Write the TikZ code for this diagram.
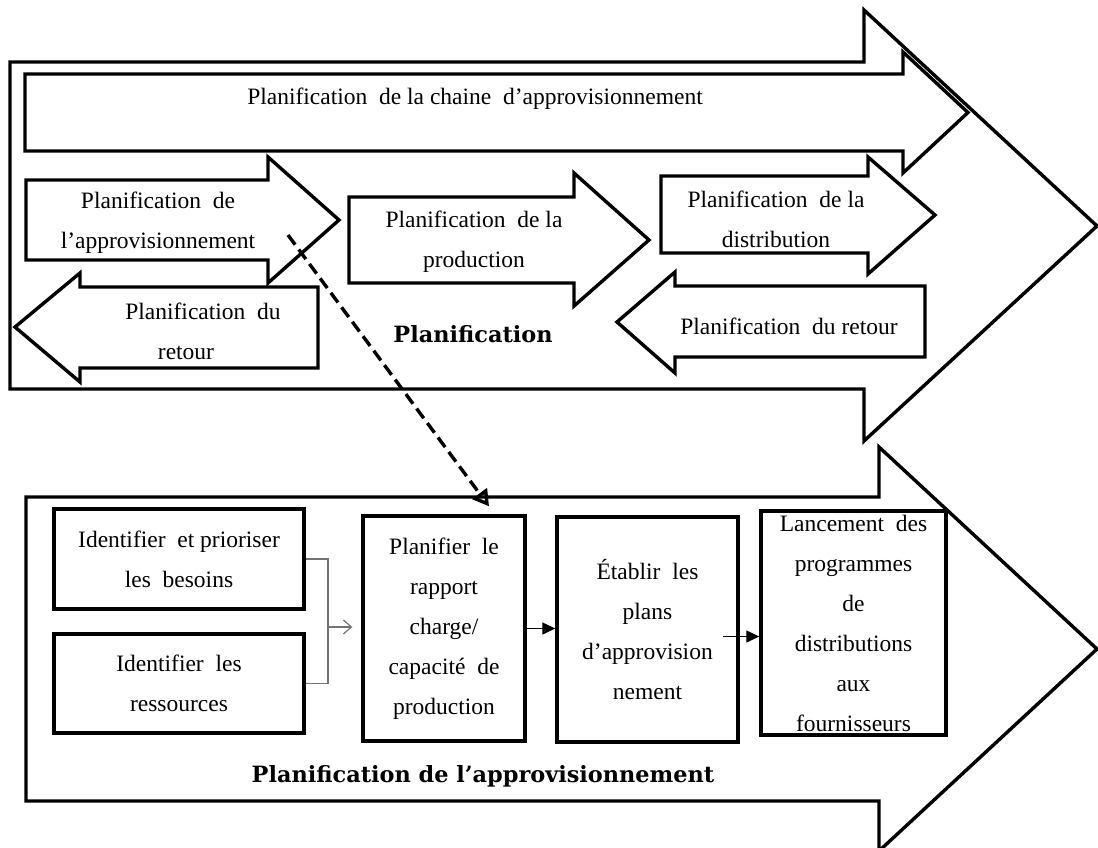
\documentclass[tikz,border=0pt]{standalone}
\usepackage{fontspec}
\setmainfont{Liberation Serif}
\newfontfamily\headfont{DejaVu Serif}
\usetikzlibrary{arrows.meta}

\tikzset{
  blockarrow/.style={draw=black, line width=3.4pt, line join=miter, fill=white},
  txt/.style={font=\fontsize{23.5}{40}\selectfont, align=center, inner sep=0pt},
  headlabel/.style={font=\headfont\bfseries\fontsize{22.4}{26}\selectfont, inner sep=0pt},
  stepbox/.style={draw=black, line width=3.4pt, inner sep=0pt, align=center,
    font=\fontsize{23.5}{40}\selectfont},
  mergeline/.style={draw=black!55, line width=1.2pt},
  mergearrow/.style={mergeline, shorten >=9pt, -{Straight Barb[length=8pt,width=14pt]}},
  flowarrow/.style={draw=black, line width=1.3pt, -{Triangle[length=13pt,width=12pt]}},
  linkarrow/.style={draw=black, line width=3.4pt, dash pattern=on 12pt off 6pt,
    -{Triangle[open, length=16pt, width=18pt]}}
}

\begin{document}
\begin{tikzpicture}[x=1pt,y=-1pt]
\useasboundingbox (0,0) rectangle (1098,847);

% ---- upper block: supply chain planning ----
\draw[blockarrow] (10,62) -- (864,62) -- (864,10) -- (1097,226) -- (864,441) -- (864,389) -- (10,389) -- cycle;
\draw[blockarrow] (25,74) -- (903,74) -- (903,52) -- (968,112.5) -- (903,173) -- (903,151) -- (25,151) -- cycle;
\draw[blockarrow] (26,180) -- (268,180) -- (268,157) -- (339,220) -- (268,283) -- (268,260) -- (26,260) -- cycle;
\draw[blockarrow] (349,197) -- (574,197) -- (574,173) -- (649,240) -- (574,306) -- (574,283) -- (349,283) -- cycle;
\draw[blockarrow] (661,176) -- (868,176) -- (868,157) -- (935,215) -- (868,274) -- (868,253) -- (661,253) -- cycle;
\draw[blockarrow] (318,287) -- (80,287) -- (80,273) -- (15,327) -- (80,382) -- (80,368) -- (318,368) -- cycle;
\draw[blockarrow] (925,286) -- (675,286) -- (675,272) -- (617,322) -- (675,373) -- (675,357) -- (925,357) -- cycle;

\node[txt] (chain) at (475,99) {Planification\ \ de la chaine\ \ d’approvisionnement};
\node[txt] (supply) at (158,223) {Planification\ \ de\\l’approvisionnement};
\node[txt] (prod) at (474,242) {Planification\ \ de la\\production};
\node[txt] (distr) at (776,219) {Planification\ \ de la\\distribution};
\node[txt] (retl) at (203,331) {Planification\ \ du\\\hspace*{-34pt}retour};
\node[txt] (retr) at (789,326) {Planification\ \ du retour};
\node[headlabel] (plabel) at (473,334) {Planification};

% ---- lower block: supply planning ----
\draw[blockarrow] (26,497) -- (879,497) -- (879,447) -- (1097,649) -- (879,851) -- (879,801) -- (26,801) -- cycle;

\node[stepbox, minimum width=250pt, minimum height=100pt] (needs) at (179,559)
  {Identifier\ \ et prioriser\\les\ \ besoins};
\node[stepbox, minimum width=250pt, minimum height=99pt] (res) at (179,683.5)
  {Identifier\ \ les\\ressources};
\node[stepbox, minimum width=162pt, minimum height=225pt] (plan) at (444,628.5)
  {Planifier\ \ le\\rapport\\charge/\\capacité\ \ de\\production};
\node[stepbox, minimum width=181pt, minimum height=225pt] (estab) at (647.5,629.5)
  {Établir\ \ les\\plans\\d’approvision\\nement};
\node[stepbox, minimum width=185pt, minimum height=224pt] (launch) at (853.5,623)
  {Lancement\ \ des\\programmes\\de\\distributions\\aux\\fournisseurs};
\node[headlabel] (alabel) at (483,776) {Planification de l’approvisionnement};

% ---- connectors ----
\coordinate (merge) at (328,627);
\draw[mergeline] (needs.east) -| (merge) |- (res.east);
\draw[mergearrow] (merge) -- (merge -| plan.west);
\draw[flowarrow] (plan.east) -- (plan.east -| estab.west);
\coordinate (q) at ([xshift=-17pt,yshift=-7pt]estab.east);
\draw[flowarrow] (q) -- (q -| launch.west);

\coordinate (dstart) at (288,235);
\coordinate (dend) at ([xshift=45pt,yshift=8pt]plan.north);
\draw[linkarrow] (dstart) -- (dend);
\end{tikzpicture}
\end{document}
